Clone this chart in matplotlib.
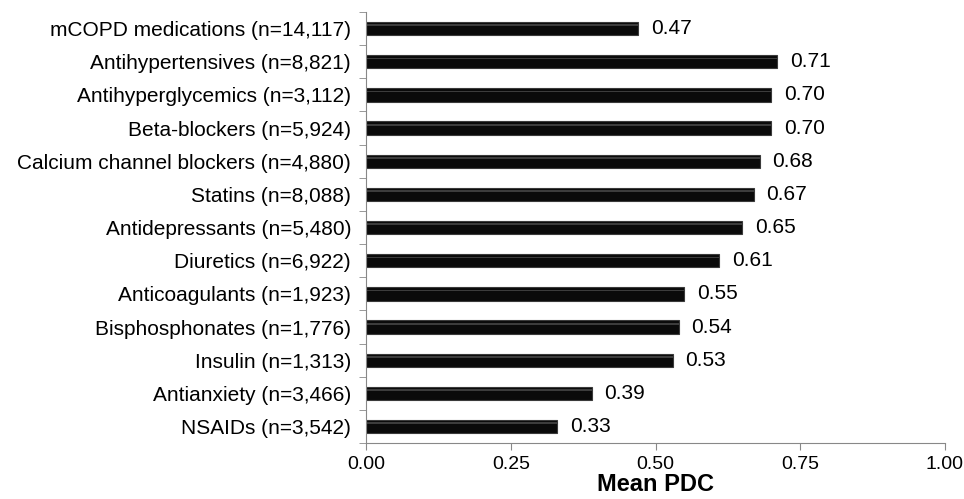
import matplotlib.pyplot as plt
import numpy as np

plt.rcParams['font.family'] = ['Liberation Sans', 'DejaVu Sans']

labels = ['mCOPD medications (n=14,117)', 'Antihypertensives (n=8,821)',
          'Antihyperglycemics (n=3,112)', 'Beta-blockers (n=5,924)',
          'Calcium channel blockers (n=4,880)', 'Statins (n=8,088)',
          'Antidepressants (n=5,480)', 'Diuretics (n=6,922)',
          'Anticoagulants (n=1,923)', 'Bisphosphonates (n=1,776)',
          'Insulin (n=1,313)', 'Antianxiety (n=3,466)', 'NSAIDs (n=3,542)']
pdc = [0.47, 0.71, 0.70, 0.70, 0.68, 0.67, 0.65, 0.61, 0.55, 0.54, 0.53, 0.39, 0.33]
xticks = [0.00, 0.25, 0.50, 0.75, 1.00]

fig = plt.figure(figsize=(9.64, 4.99), dpi=100)
ax = fig.add_axes([0.380, 0.112, 0.600, 0.864])

y = np.arange(len(labels))[::-1]
ax.barh(y, pdc, height=0.4, color='#0a0a0a', edgecolor='#3a3a3a', linewidth=0.8)
# faint highlight to mimic the glossy bars
ax.barh(y + 0.1, pdc, height=0.05, color='#3c3c3c', linewidth=0)

for yi, v in zip(y, pdc):
    ax.text(v + 0.022, yi, '%.2f' % v, va='center', ha='left', fontsize=15)

ax.set_xlim(0, 1)
ax.set_ylim(-0.5, len(labels) - 0.5)
ax.set_xticks(xticks)
ax.set_xticklabels(['%.2f' % t for t in xticks], fontsize=14)
ax.set_yticks(y)
ax.set_yticklabels(labels, fontsize=15)
ax.set_yticks(np.arange(-0.5, len(labels), 1), minor=True)
ax.tick_params(axis='y', which='major', length=0, pad=11)
ax.tick_params(axis='y', which='minor', length=5, color='#888888')
ax.tick_params(axis='x', length=5, color='#888888', pad=4)
ax.set_xlabel('Mean PDC', fontsize=17, fontweight='bold', labelpad=0)

for s in ['top', 'right']:
    ax.spines[s].set_visible(False)
for s in ['left', 'bottom']:
    ax.spines[s].set_color('#888888')

fig.savefig('out.png', dpi=100)
